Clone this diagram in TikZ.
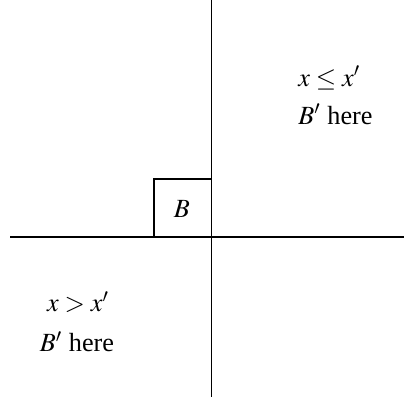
\documentclass[tikz,border=0pt]{standalone}
\usepackage{amsmath}
\usepackage{mathptmx}
\usepackage{fontspec}
\setmainfont{Liberation Serif}
\usepackage{tikz}
\usetikzlibrary{positioning}

\begin{document}
\begin{tikzpicture}[x=0.45pt,y=-0.45pt,font=\fontsize{11.8}{14}\selectfont]
    \useasboundingbox (0,0) rectangle (404,404);
    % axes through the corner of the box
        \coordinate (top) at (211.5,0);
        \coordinate (bot) at (211.5,397);
        \coordinate (left) at (10,237);
        \coordinate (right) at (404,237);
        \draw[line width=0.85pt,black] (top)--(bot);
        \draw[line width=0.85pt,black] (left)--(right);
    % the box B
        \draw[line width=0.85pt,black] (211.5,179)--(154,179)--(154,237);
        \node (B) at (182,209) {$B$};
    % upper right region
        \node[anchor=base west, inner sep=0pt] (ur1) at (298,86) {$x\le x'$};
        \node[anchor=base west, inner sep=0pt] (ur2) at (298,124) {$B'$ here};
    % lower left region
        \node[inner sep=0pt] (ll1) at (78,302) {$x>x'$};
        \node[inner sep=0pt] (ll2) at (77,342) {$B'$ here};
\end{tikzpicture}
\end{document}
